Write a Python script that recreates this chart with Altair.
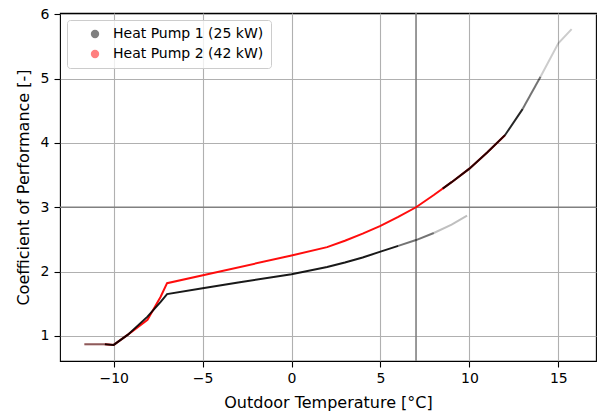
import altair as alt
import pandas as pd

S1 = "Heat Pump 1 (25 kW)"
S2 = "Heat Pump 2 (42 kW)"

# Heat Pump 1 – lower branch
hp1_temp = [-11.65, -10.5, -10.0, -9.2, -8.1, -7.36, -7.0, -5.0, -3.0, 0.0, 2.0, 3.0, 4.0, 5.0, 6.0, 7.0, 8.0, 9.0, 9.87]
hp1_cop = [0.87, 0.87, 0.86, 1.02, 1.30, 1.53, 1.65, 1.74, 1.83, 1.96, 2.07, 2.14, 2.22, 2.31, 2.40, 2.49, 2.60, 2.73, 2.87]

# Heat Pump 1 – upper branch (shared with Heat Pump 2)
hp1_up_temp = [8.5, 9.0, 10.0, 11.0, 12.0, 13.0, 14.0, 15.0, 15.75]
hp1_up_cop = [3.29, 3.39, 3.60, 3.85, 4.12, 4.53, 5.03, 5.55, 5.77]

# Heat Pump 2
hp2_temp = [-11.65, -10.5, -10.0, -9.2, -8.1, -7.36, -7.0, 0.0, 2.0, 3.0, 4.0, 5.0, 6.0, 7.0, 8.0, 9.0, 10.0, 11.0, 12.0]
hp2_cop = [0.87, 0.87, 0.86, 1.02, 1.25, 1.61, 1.82, 2.25, 2.38, 2.48, 2.59, 2.71, 2.85, 3.00, 3.19, 3.39, 3.60, 3.85, 4.12]

# Reference lines
ref_temp = [7]
ref_cop = [3]

rows = []
for t, c in zip(hp1_temp, hp1_cop):
    rows.append({"series": S1, "branch": "hp1", "T": t, "COP": c})
for t, c in zip(hp1_up_temp, hp1_up_cop):
    rows.append({"series": S1, "branch": "hp1up", "T": t, "COP": c})
for t, c in zip(hp2_temp, hp2_cop):
    rows.append({"series": S2, "branch": "hp2", "T": t, "COP": c})
df = pd.DataFrame(rows)

FONT = "DejaVu Sans"

x_enc = alt.X(
    "T:Q",
    scale=alt.Scale(domain=[-13.02, 17.12], nice=False, zero=False),
    axis=alt.Axis(values=[-10, -5, 0, 5, 10, 15], title="Outdoor Temperature [°C]",
                  titlePadding=9, labelPadding=4),
)
y_enc = alt.Y(
    "COP:Q",
    scale=alt.Scale(domain=[0.61, 6.02], nice=False, zero=False),
    axis=alt.Axis(values=[1, 2, 3, 4, 5, 6], format="d", title="Coefficient of Performance [-]",
                  titlePadding=9, labelPadding=5),
)

base = alt.Chart(df)


def seg(branch, lo, hi, opacity, color):
    return base.transform_filter(
        (alt.datum.branch == branch) & (alt.datum.T >= lo) & (alt.datum.T <= hi)
    ).mark_line(strokeWidth=2, opacity=opacity, color=color).encode(x=x_enc, y=y_enc)


ref_v = alt.Chart(pd.DataFrame({"T": ref_temp})).mark_rule(
    color="#808080", strokeWidth=1.6
).encode(x=alt.X("T:Q"))
ref_h = alt.Chart(pd.DataFrame({"COP": ref_cop})).mark_rule(
    color="#808080", strokeWidth=1.6
).encode(y=alt.Y("COP:Q"))

legend_layer = base.mark_circle(size=0, opacity=0.5).encode(
    x=x_enc,
    y=y_enc,
    color=alt.Color(
        "series:N",
        scale=alt.Scale(domain=[S1, S2], range=["#000000", "#ff0000"]),
        legend=alt.Legend(
            title=None,
            orient="none",
            legendX=7,
            legendY=7,
            symbolType="circle",
            symbolSize=70,
            symbolOpacity=0.5,
            symbolStrokeWidth=0,
            symbolOffset=14,
            labelOffset=11,
            labelFontSize=14,
            labelFont=FONT,
            labelColor="#000000",
            rowPadding=6,
            padding=7,
            fillColor="rgba(255,255,255,0.8)",
            strokeColor="#cccccc",
            cornerRadius=3,
        ),
    ),
)

red = "#ff0000"
black = "#000000"

chart = alt.layer(
    ref_v,
    ref_h,
    # Heat pump 2 (red)
    seg("hp2", -11.65, -10.5, 0.35, red),
    seg("hp2", -10.5, 12.0, 0.95, red),
    # Heat pump 1 (black)
    seg("hp1", -11.65, -10.5, 0.45, black),
    seg("hp1", -10.5, 6.0, 0.9, black),
    seg("hp1", 6.0, 8.0, 0.55, black),
    seg("hp1", 8.0, 9.87, 0.25, black),
    seg("hp1up", 8.5, 13.0, 0.85, black),
    seg("hp1up", 13.0, 14.0, 0.55, black),
    seg("hp1up", 14.0, 15.75, 0.2, black),
    legend_layer,
).properties(
    width=536,
    height=348,
    autosize=alt.AutoSizeParams(type="none"),
    padding={"left": 60, "top": 13, "right": 1, "bottom": 53},
).configure_view(
    stroke="#000000", strokeWidth=1.1
).configure_axis(
    labelFont=FONT,
    titleFont=FONT,
    labelFontSize=14,
    titleFontSize=16,
    titleFontWeight="normal",
    labelColor="#000000",
    titleColor="#000000",
    gridColor="#b0b0b0",
    gridWidth=1.1,
    domain=False,
    tickColor="#000000",
    tickSize=6,
    tickWidth=1.1,
)

chart.save("out.html", embed_options={"renderer": "svg", "actions": False})
